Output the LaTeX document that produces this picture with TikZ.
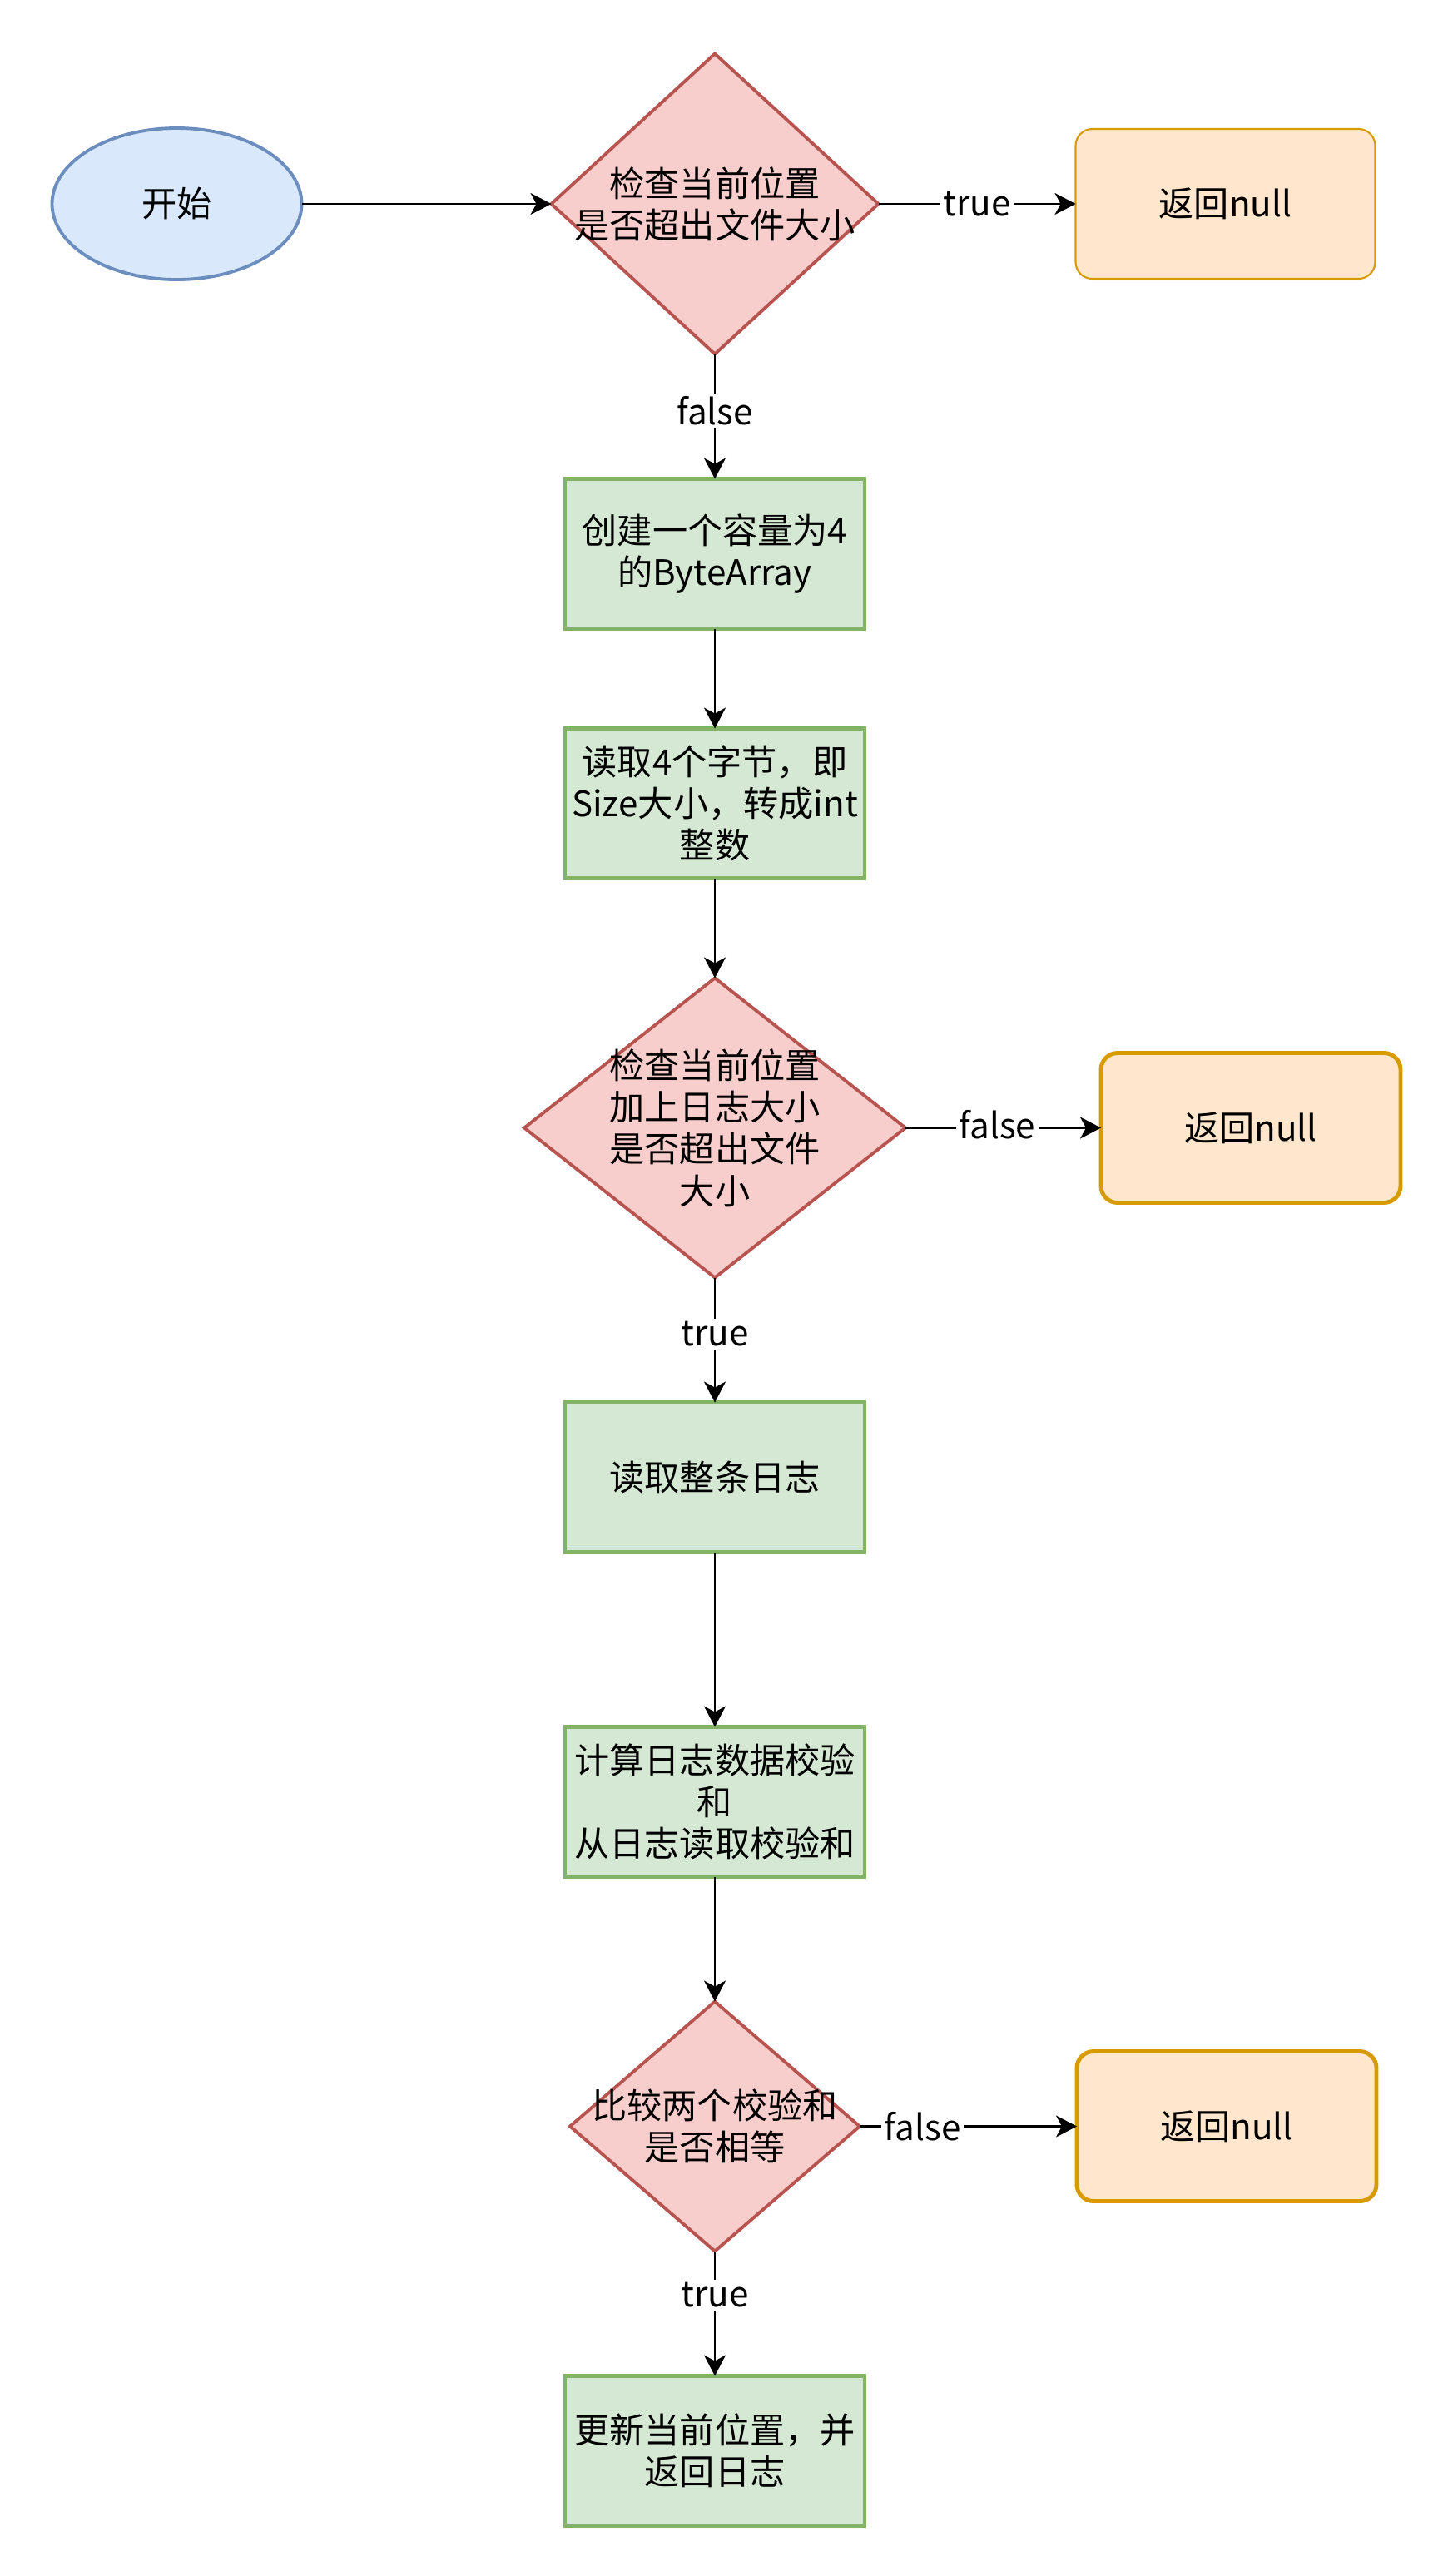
\documentclass[tikz,border=0pt]{standalone}
\usepackage{fontspec}
\setmainfont{Noto Sans CJK SC}
\usetikzlibrary{arrows.meta, positioning, shapes.geometric}
\definecolor{logbluefill}{HTML}{DAE8FC}
\definecolor{logblue}{HTML}{6C8EBF}
\definecolor{logredfill}{HTML}{F8CECC}
\definecolor{logred}{HTML}{B85450}
\definecolor{loggreenfill}{HTML}{D5E8D4}
\definecolor{loggreen}{HTML}{82B366}
\definecolor{logorangefill}{HTML}{FFE6CC}
\definecolor{logorange}{HTML}{D79B00}
\tikzset{
  txt/.style={font=\fontsize{12}{14.3}\selectfont, align=center, text=black},
  term/.style={ellipse, draw=logblue, fill=logbluefill, line width=1.1pt,
    minimum width=3cm, minimum height=1.82cm, inner sep=0pt, outer sep=0pt, txt},
  decide/.style={diamond, draw=logred, fill=logredfill, line width=1.1pt, inner sep=0pt, outer sep=0pt},
  dtext/.style={txt, inner sep=0pt},
  proc/.style={rectangle, draw=loggreen, fill=loggreenfill, line width=1.4pt,
    minimum width=3.6cm, minimum height=1.8cm, inner sep=0pt, outer sep=0pt, txt},
  ret/.style={rectangle, rounded corners=0.2cm, draw=logorange, fill=logorangefill, line width=0.6pt,
    minimum width=3.6cm, minimum height=1.8cm, inner sep=0pt, outer sep=0pt, txt},
  arr/.style={-{Stealth[length=0.25cm, width=0.26cm, inset=0.07cm]}, line width=0.6pt, black},
  lbl/.style={fill=white, inner sep=1pt, txt},
}
\begin{document}
\begin{tikzpicture}[node distance=1.5cm]
    \useasboundingbox (0,0) rectangle (17.46,-30.96);

    \node[decide, minimum width=3.93cm, minimum height=3.61cm] (chk1) at (8.59,-2.45) {};
    \node[dtext] at (chk1) {检查当前位置\\是否超出文件大小};
    \node[term, left=3cm of chk1] (start) {开始};
    \node[ret, right=2.37cm of chk1] (null1) {返回null};

    \node[proc, below=1.5cm of chk1] (alloc) {创建一个容量为4\\的ByteArray};
    \node[proc, below=1.2cm of alloc] (size) {读取4个字节，即\\Size大小，转成int\\整数};

    \node[decide, below=1.2cm of size, minimum width=4.58cm, minimum height=3.6cm] (chk2) {};
    \node[dtext] at (chk2) {检查当前位置\\加上日志大小\\是否超出文件\\大小};
    \node[ret, line width=1.4pt, right=2.35cm of chk2] (null2) {返回null};

    \node[proc, below=1.5cm of chk2] (body) {读取整条日志};
    \node[proc, below=2.1cm of body] (sum) {计算日志数据校验\\和\\从日志读取校验和};

    \node[decide, below=1.5cm of sum, minimum width=3.48cm, minimum height=3cm] (chk3) {};
    \node[dtext] at (chk3) {比较两个校验和\\是否相等};
    \node[ret, line width=1.4pt, right=2.61cm of chk3] (null3) {返回null};

    \node[proc, below=1.5cm of chk3] (done) {更新当前位置，并\\返回日志};

    \draw[arr] (start) -- (chk1);
    \draw[arr] (chk1) -- node[lbl] {true} (null1);
    \draw[arr] (chk1) -- node[lbl, yshift=2pt] {false} (alloc);
    \draw[arr] (chk2) -- node[lbl, pos=0.47, yshift=1pt] {false} (null2);
    \draw[arr] (chk2) -- node[lbl, yshift=2pt] {true} (body);
    \draw[arr] (chk3) -- node[lbl, pos=0.29] {false} (null3);
    \draw[arr] (chk3) -- node[lbl, pos=0.4, yshift=2pt] {true} (done);
    \foreach \a/\b in {alloc/size, size/chk2, body/sum, sum/chk3}
      \draw[arr] (\a) -- (\b);
\end{tikzpicture}
\end{document}
